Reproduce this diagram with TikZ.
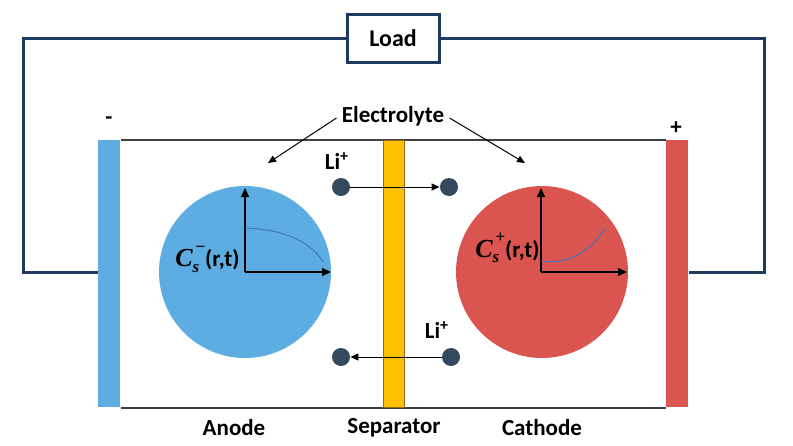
\documentclass[tikz,border=0pt]{standalone}
\usepackage{fontspec}
\setmainfont{Carlito}
\newfontfamily\mathlike{Liberation Serif}
\usetikzlibrary{arrows.meta}
\definecolor{wire}{HTML}{1F3A60}
\definecolor{anodeblue}{HTML}{5DADE2}
\definecolor{cathred}{HTML}{DA5550}
\definecolor{sepyel}{HTML}{FFC000}
\definecolor{sepedge}{HTML}{8C6D1F}
\definecolor{ion}{HTML}{34495E}
\definecolor{curve}{HTML}{4472C4}
\definecolor{cellline}{HTML}{404040}
\newcommand{\concsym}[1]{{\mathlike\bfseries\itshape\fontsize{13}{14}\selectfont C\raisebox{-2.8pt}{\fontsize{8.5}{6.5}\selectfont\shortstack[l]{\upshape\,#1\\[3pt]s}}}}
\tikzset{
  lbl/.style={font=\fontsize{11.5}{13}\selectfont\bfseries, inner sep=0pt},
  ionball/.style={circle, fill=ion, minimum size=9pt, inner sep=0pt},
  axis/.style={-{Triangle[length=4.5pt,width=4pt]}, line width=0.6pt},
  thinarrow/.style={-{Triangle[length=4pt,width=3.5pt]}, line width=0.5pt},
}
\begin{document}
\begin{tikzpicture}[x=0.5pt,y=-0.5pt]
\useasboundingbox (0,0) rectangle (793,445);
% wire
\node[draw=wire, line width=1.5pt, fill=white, minimum width=46pt, minimum height=24pt, inner sep=0pt] (load) at (393,38) {\fontsize{12}{14}\selectfont\bfseries Load};
\coordinate (wl) at (23,38);
\coordinate (wlb) at (23,272);
\coordinate (wr) at (764,38);
\coordinate (wrb) at (764,272);
% electrodes
\node[fill=anodeblue, minimum width=11pt, minimum height=133.5pt, inner sep=0pt, anchor=north west] (an) at (98,140) {};
\node[fill=cathred, minimum width=11pt, minimum height=133.5pt, inner sep=0pt, anchor=north west] (ca) at (666,140) {};
\draw[wire, line width=1.5pt] (load.west) -- (wl) -- (wlb) -- (an.west |- wlb);
\draw[wire, line width=1.5pt] (load.east) -- (wr) -- (wrb) -- (ca.east |- wrb);
% cell lines
\draw[cellline, line width=0.8pt] (an.north east) -- (ca.north west);
\draw[cellline, line width=0.8pt] (an.south east) -- (ca.south west);
% separator
\node[fill=sepyel, draw=sepedge, line width=0.6pt, minimum width=10.5pt, minimum height=133.5pt, inner sep=0pt, anchor=north west] (sep) at (383,140) {};
% particles
\node[circle, fill=anodeblue, minimum size=86pt, inner sep=0pt] (pa) at (245,272) {};
\node[circle, fill=cathred, minimum size=86pt, inner sep=0pt] (pc) at (542,272) {};
% anode axes
\coordinate (ao) at (245,272);
\draw[axis] (ao) -- (245,188);
\draw[axis] (ao) -- (331,272);
\draw[curve, line width=0.5pt] (245,228) .. controls (280,229) and (310,240) .. (323,262);
\node[lbl, anchor=east] (clab) at (240,259) {\concsym{\textminus}(r,t)};
% cathode axes
\coordinate (co) at (541,272);
\draw[axis] (co) -- (541,188);
\draw[axis] (co) -- (627,272);
\draw[curve, line width=0.5pt] (541,261) .. controls (570,265) and (592,250) .. (605,228);
\node[lbl, anchor=east] (clab2) at (540,248) {\concsym{+}(r,t)};
% Li ions
\node[ionball] (i1) at (341,187) {};
\node[ionball] (i2) at (449,187) {};
\node[ionball] (i3) at (341,357) {};
\node[ionball] (i4) at (451,357) {};
\draw[thinarrow] (i1.east) -- (i2.west);
\draw[thinarrow] (i4.west) -- (i3.east);
\node[lbl] (li1) at (337,161) {Li\textsuperscript{+}};
\node[lbl] (li2) at (437,330) {Li\textsuperscript{+}};
% electrolyte
\node[lbl] (el) at (393,116) {Electrolyte};
\coordinate (ea) at (268,163);
\coordinate (ec) at (525,163);
\draw[thinarrow] (el.west) ++(-5,2) coordinate (e1) -- (ea);
\draw[thinarrow] (el.east) ++(5,2) coordinate (e2) -- (ec);
% signs
\node[lbl] (minus) at (109,121) {-};
\node[lbl] (plus) at (676,128) {+};
% bottom labels
\node[lbl] (anl) at (234,428) {Anode};
\node[lbl] (sepl) at (394,428) {Separator};
\node[lbl] (cal) at (542,428) {Cathode};
\end{tikzpicture}
\end{document}
